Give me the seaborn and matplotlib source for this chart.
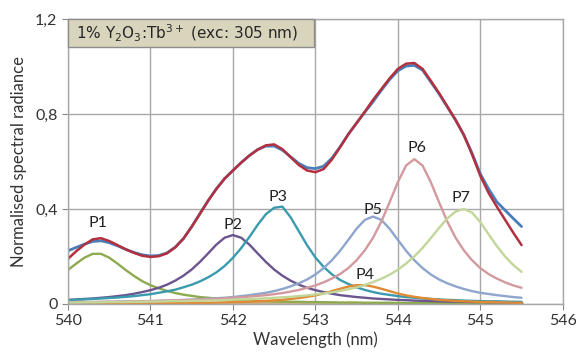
import numpy as np
import pandas as pd
import seaborn as sns
import matplotlib.pyplot as plt
from matplotlib.patches import Rectangle

sns.set_style('whitegrid')
plt.rcParams['font.family'] = ['Lato', 'DejaVu Sans']

# wavelength grid (nm)
wavelength = [540.0, 540.1, 540.2, 540.3, 540.4, 540.5, 540.6, 540.7, 540.8, 540.9,
              541.0, 541.1, 541.2, 541.3, 541.4, 541.5, 541.6, 541.7, 541.8, 541.9,
              542.0, 542.1, 542.2, 542.3, 542.4, 542.5, 542.6, 542.7, 542.8, 542.9,
              543.0, 543.1, 543.2, 543.3, 543.4, 543.5, 543.6, 543.7, 543.8, 543.9,
              544.0, 544.1, 544.2, 544.3, 544.4, 544.5, 544.6, 544.7, 544.8, 544.9,
              545.0, 545.1, 545.2, 545.3, 545.4, 545.5]

# measured spectrum (blue)
measured = [0.224, 0.238, 0.252, 0.263, 0.266, 0.258, 0.245, 0.230, 0.217, 0.207,
            0.202, 0.204, 0.215, 0.239, 0.275, 0.325, 0.380, 0.435, 0.485, 0.528,
            0.562, 0.595, 0.625, 0.650, 0.665, 0.665, 0.648, 0.620, 0.592, 0.574,
            0.570, 0.580, 0.614, 0.662, 0.715, 0.762, 0.808, 0.852, 0.900, 0.945,
            0.982, 1.002, 1.005, 0.985, 0.935, 0.885, 0.830, 0.775, 0.712, 0.635,
            0.548, 0.485, 0.430, 0.395, 0.360, 0.326]

# fitted sum (red)
fit = [0.190, 0.222, 0.250, 0.272, 0.277, 0.265, 0.248, 0.230, 0.215, 0.203,
       0.198, 0.201, 0.213, 0.238, 0.275, 0.325, 0.380, 0.435, 0.485, 0.528,
       0.562, 0.595, 0.625, 0.650, 0.668, 0.672, 0.652, 0.618, 0.585, 0.562,
       0.555, 0.568, 0.608, 0.660, 0.715, 0.762, 0.810, 0.860, 0.905, 0.950,
       0.990, 1.012, 1.015, 0.990, 0.940, 0.888, 0.832, 0.775, 0.712, 0.630,
       0.540, 0.468, 0.410, 0.355, 0.300, 0.248]

p1 = [0.143, 0.170, 0.195, 0.211, 0.211, 0.195, 0.170, 0.143, 0.118, 0.096,
      0.079, 0.066, 0.055, 0.046, 0.039, 0.034, 0.029, 0.026, 0.023, 0.020,
      0.018, 0.016, 0.015, 0.013, 0.012, 0.011, 0.010, 0.009, 0.009, 0.008,
      0.008, 0.007, 0.007, 0.006, 0.006, 0.006, 0.005, 0.005, 0.005, 0.005,
      0.004, 0.004, 0.004, 0.004, 0.004, 0.003, 0.003, 0.003, 0.003, 0.003,
      0.003, 0.003, 0.003, 0.003, 0.003, 0.002]

p2 = [0.017, 0.019, 0.021, 0.023, 0.026, 0.029, 0.033, 0.037, 0.043, 0.050,
      0.058, 0.068, 0.081, 0.098, 0.119, 0.145, 0.177, 0.213, 0.250, 0.279,
      0.290, 0.279, 0.250, 0.213, 0.177, 0.145, 0.119, 0.098, 0.081, 0.068,
      0.058, 0.050, 0.043, 0.037, 0.033, 0.029, 0.026, 0.023, 0.021, 0.019,
      0.017, 0.016, 0.014, 0.013, 0.012, 0.011, 0.010, 0.010, 0.009, 0.008,
      0.008, 0.007, 0.007, 0.006, 0.006, 0.006]

p3 = [0.016, 0.018, 0.019, 0.021, 0.023, 0.025, 0.027, 0.030, 0.033, 0.037,
      0.041, 0.047, 0.053, 0.060, 0.070, 0.081, 0.095, 0.112, 0.133, 0.160,
      0.194, 0.235, 0.282, 0.333, 0.378, 0.405, 0.410, 0.365, 0.306, 0.247,
      0.196, 0.156, 0.125, 0.101, 0.084, 0.070, 0.059, 0.050, 0.043, 0.038,
      0.033, 0.029, 0.026, 0.023, 0.021, 0.019, 0.017, 0.016, 0.014, 0.013,
      0.012, 0.011, 0.011, 0.010, 0.009, 0.009]

p4 = [0.002, 0.002, 0.002, 0.002, 0.002, 0.002, 0.002, 0.002, 0.003, 0.003,
      0.003, 0.003, 0.003, 0.004, 0.004, 0.005, 0.005, 0.005, 0.006, 0.007,
      0.008, 0.008, 0.010, 0.011, 0.013, 0.015, 0.017, 0.021, 0.025, 0.030,
      0.036, 0.044, 0.054, 0.064, 0.073, 0.079, 0.079, 0.073, 0.064, 0.054,
      0.044, 0.036, 0.030, 0.025, 0.021, 0.017, 0.015, 0.013, 0.011, 0.010,
      0.008, 0.008, 0.007, 0.006, 0.005, 0.005]

p5 = [0.007, 0.007, 0.007, 0.008, 0.008, 0.009, 0.009, 0.010, 0.011, 0.011,
      0.012, 0.013, 0.014, 0.015, 0.017, 0.018, 0.020, 0.022, 0.024, 0.026,
      0.029, 0.033, 0.037, 0.042, 0.047, 0.054, 0.063, 0.074, 0.087, 0.103,
      0.124, 0.151, 0.184, 0.224, 0.270, 0.317, 0.354, 0.368, 0.354, 0.317,
      0.270, 0.224, 0.184, 0.151, 0.124, 0.103, 0.087, 0.074, 0.063, 0.054,
      0.047, 0.042, 0.037, 0.033, 0.029, 0.026]

p6 = [0.007, 0.008, 0.008, 0.008, 0.009, 0.009, 0.010, 0.010, 0.011, 0.012,
      0.012, 0.013, 0.014, 0.015, 0.016, 0.017, 0.018, 0.020, 0.021, 0.024,
      0.026, 0.028, 0.031, 0.034, 0.037, 0.041, 0.046, 0.052, 0.059, 0.068,
      0.078, 0.091, 0.107, 0.126, 0.151, 0.184, 0.226, 0.279, 0.347, 0.428,
      0.513, 0.583, 0.610, 0.583, 0.513, 0.428, 0.347, 0.279, 0.226, 0.184,
      0.151, 0.126, 0.107, 0.091, 0.078, 0.068]

p7 = [0.006, 0.006, 0.007, 0.007, 0.007, 0.008, 0.008, 0.008, 0.009, 0.009,
      0.010, 0.010, 0.011, 0.012, 0.012, 0.013, 0.014, 0.014, 0.015, 0.016,
      0.018, 0.019, 0.020, 0.022, 0.024, 0.026, 0.028, 0.030, 0.033, 0.036,
      0.040, 0.044, 0.049, 0.055, 0.062, 0.070, 0.080, 0.092, 0.106, 0.123,
      0.144, 0.170, 0.200, 0.236, 0.277, 0.320, 0.360, 0.389, 0.400, 0.385,
      0.345, 0.294, 0.244, 0.200, 0.164, 0.135]

# flat background component
base_wl = [540.0, 545.5]
base = [0.006, 0.006]

peak_names = ['P1', 'P2', 'P3', 'P4', 'P5', 'P6', 'P7']
peak_colors = ['#8EAA4E', '#6B558F', '#3A9AAE', '#E08A33', '#8EA6CC', '#D39A9E', '#C2D69A']
label_x = [540.36, 542.0, 542.55, 543.6, 543.7, 544.23, 544.77]
label_y = [0.34, 0.333, 0.452, 0.122, 0.396, 0.655, 0.445]

fig = plt.figure(figsize=(5.76, 3.53), dpi=100)
ax = fig.add_axes([0.118, 0.139, 0.859, 0.807])

line_kw = dict(solid_joinstyle='round', solid_capstyle='round')
sns.lineplot(x=base_wl, y=base, color='#C7B08A', lw=2.2, ax=ax)
for vals, c in zip([p1, p2, p3, p4, p5, p6, p7], peak_colors):
    sns.lineplot(x=wavelength, y=vals, color=c, lw=1.7, ax=ax, **line_kw)
sns.lineplot(x=wavelength, y=measured, color='#4A7EBB', lw=2.0, ax=ax, **line_kw)
sns.lineplot(x=wavelength, y=fit, color='#B3303F', lw=1.8, ax=ax, **line_kw)

for name, lx, ly in zip(peak_names, label_x, label_y):
    ax.text(lx, ly, name, ha='center', va='center', fontsize=11.5, color='#222222')

ax.set_xlim(540, 546)
ax.set_ylim(0, 1.2)
ax.set_xticks([540, 541, 542, 543, 544, 545, 546])
ax.set_yticks([0, 0.4, 0.8, 1.2])
ax.set_yticklabels(['0', '0,4', '0,8', '1,2'])
ax.tick_params(labelsize=11.5, colors='#333333', length=4, width=0.8)
ax.tick_params(axis='y', left=True, color='#888888')
ax.tick_params(axis='x', bottom=True, color='#888888')
ax.grid(True, color='#A8A8A8', lw=1.0)
for s in ax.spines.values():
    s.set_color('#A8A8A8')
    s.set_linewidth(1.0)

ax.set_xlabel('Wavelength (nm)', fontsize=12, color='#333333', labelpad=2)
ax.set_ylabel('Normalised spectral radiance', fontsize=12, color='#333333', labelpad=6)

# title box in the upper left corner
ax.add_patch(Rectangle((0.0, 0.902), 0.497, 0.098, transform=ax.transAxes,
                       facecolor='#D9D5BD', edgecolor='#8C8C8C', lw=1.0, zorder=5,
                       clip_on=False))
ax.text(0.016, 0.951, r'1% Y$_2$O$_3$:Tb$^{3+}$ (exc: 305 nm)', transform=ax.transAxes,
        ha='left', va='center', fontsize=11, family='DejaVu Sans', zorder=6)

fig.savefig('out.png', dpi=100)
